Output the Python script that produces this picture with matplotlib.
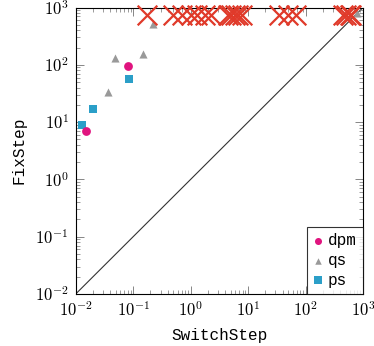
import matplotlib
matplotlib.use("Agg")
import matplotlib.pyplot as plt
from matplotlib.ticker import LogLocator, FuncFormatter, NullFormatter
import numpy as np

plt.rcParams["mathtext.fontset"] = "cm"

# Solved instances: SwitchStep time vs FixStep time
dpm_x = [0.015, 0.082]
dpm_y = [7.0, 95.0]

qs_x = [0.037, 0.049, 0.146, 0.22, 800.0]
qs_y = [34.0, 130.0, 155.0, 510.0, 800.0]

ps_x = [0.0127, 0.0197, 0.0845]
ps_y = [8.8, 16.7, 56.0]

# Instances where FixStep timed out
timeout_x = [0.176, 0.5, 0.7, 1.0, 1.27, 1.8, 2.3, 4.5, 5.1, 5.9, 6.7, 7.7,
             35.0, 50.0, 69.0, 450.0, 510.0, 590.0, 630.0]
timeout_y = [750.0] * len(timeout_x)

diag = [1e-2, 1e3]

fig = plt.figure(figsize=(3.74, 3.46), dpi=100)
ax = fig.add_axes([0.2024, 0.1503, 0.9706 - 0.2024, 0.9783 - 0.1503])
ax.set_xscale("log")
ax.set_yscale("log")
ax.set_xlim(1e-2, 1e3)
ax.set_ylim(1e-2, 1e3)

ax.plot(diag, diag, color="#333333", lw=0.8, zorder=1)

ax.scatter(qs_x, qs_y, marker="^", s=34, color="#999999", lw=0, zorder=3, label="qs")
ax.scatter(ps_x, ps_y, marker="s", s=40, color="#2b9fc8", lw=0, zorder=3, label="ps")
ax.scatter(dpm_x, dpm_y, marker="o", s=40, color="#e0147f", lw=0, zorder=3, label="dpm")
ax.scatter(timeout_x, timeout_y, marker="x", s=200, color="#e03a2a", lw=1.6, zorder=4,
           clip_on=False)

fmt = FuncFormatter(lambda v, p: r"$10^{%d}$" % int(round(np.log10(v))))
for axis in (ax.xaxis, ax.yaxis):
    axis.set_major_locator(LogLocator(base=10, numticks=10))
    axis.set_minor_locator(LogLocator(base=10, subs=np.arange(2, 10), numticks=10))
    axis.set_major_formatter(fmt)
    axis.set_minor_formatter(NullFormatter())

ax.tick_params(which="both", direction="in", top=True, right=True, color="0.45",
               labelsize=12)
ax.tick_params(which="major", length=5.5, width=0.6, pad=5)
ax.tick_params(which="minor", length=3, width=0.5)
for s in ax.spines.values():
    s.set_linewidth(0.8)
    s.set_color("black")

ax.set_xlabel("SwitchStep", family="Liberation Mono", fontsize=11.5, labelpad=6)
ax.set_ylabel("FixStep", family="Liberation Mono", fontsize=11.5, labelpad=6)

handles, labels = ax.get_legend_handles_labels()
order = [labels.index(l) for l in ["dpm", "qs", "ps"]]
leg = ax.legend([handles[i] for i in order], [labels[i] for i in order],
                loc="lower right", borderaxespad=0, frameon=True, fancybox=False,
                edgecolor="black", handlelength=0.6, handletextpad=0.3,
                borderpad=0.4, labelspacing=0.3, markerscale=0.8,
                prop={"family": "Liberation Mono", "size": 11.5})
leg.get_frame().set_linewidth(0.8)

fig.savefig("out.png", dpi=100)
